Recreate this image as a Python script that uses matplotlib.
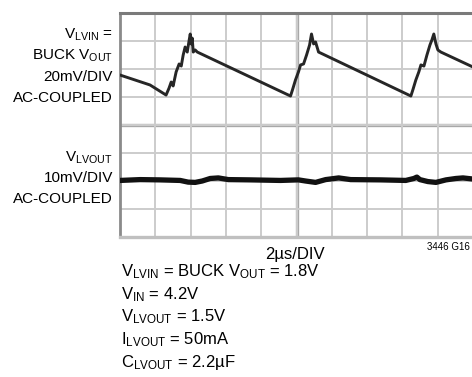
import matplotlib
matplotlib.use("Agg")
import matplotlib.pyplot as plt
import numpy as np

plt.rcParams['font.family'] = ['Liberation Sans Narrow', 'Liberation Sans', 'DejaVu Sans']
plt.rcParams['mathtext.fontset'] = 'custom'
plt.rcParams['mathtext.rm'] = 'Liberation Sans'

# upper trace: V_LVIN (= buck Vout), 20mV/div, AC coupled, time in us
t_lvin = [0.00, 1.70, 2.61, 2.78, 2.90, 3.01, 3.18, 3.35, 3.47, 3.58, 3.69, 3.81,
          3.92, 3.98, 4.03, 4.09, 4.15, 4.26, 4.38,
          9.66, 9.77, 9.94, 10.11, 10.23, 10.40, 10.57, 10.74, 10.85, 10.97,
          11.08, 11.25,
          16.48, 16.59, 16.76, 16.93, 17.05, 17.22, 17.39, 17.56, 17.67, 17.78,
          17.90, 18.01, 18.18, 20.00]
v_lvin = [-4.3, -11.4, -18.6, -13.6, -9.3, -12.1, -2.1, 3.6, 2.1, 10.0, 15.7, 12.1,
          20.7, 25.0, 17.9, 22.1, 12.1, 13.6, 12.1,
          -19.3, -15.0, -7.9, -2.1, 2.9, 3.6, 10.0, 17.1, 25.0, 17.9,
          19.3, 12.1,
          -19.3, -15.0, -7.9, -2.1, 2.9, 2.1, 10.0, 17.1, 20.7, 25.0,
          17.9, 13.6, 12.1, 1.4]

# lower trace: V_LVOUT, 10mV/div, AC coupled
t_lvout = [0.00, 1.14, 2.27, 3.41, 3.86, 4.26, 4.66, 5.11, 5.57, 6.14, 7.39, 9.09,
           10.11, 10.51, 11.08, 11.65, 12.39, 13.07, 14.77, 16.19, 16.65, 16.82,
           16.99, 17.44, 17.90, 18.47, 19.03, 19.43, 20.00]
v_lvout = [0.2, 0.5, 0.4, 0.2, -0.4, -0.5, 0.0, 0.9, 1.1, 0.5, 0.4, 0.2,
           0.4, 0.0, -0.5, 0.5, 1.1, 0.5, 0.4, 0.2, 0.9, 1.4,
           0.5, -0.2, -0.5, 0.4, 0.9, 1.1, 0.7]

pos_lvin = 2    # divisions
pos_lvout = -2

fig = plt.figure(figsize=(4.72, 3.77), dpi=100)
ax = fig.add_axes([120/472, 1 - 237/377, 353/472, 224/377])

ax.set_xlim(0, 20)
ax.set_ylim(-4, 4)
ax.set_xticks(np.arange(0, 21, 2))
ax.set_yticks(np.arange(-4, 5, 1))
ax.grid(True, color='#cccccc', lw=1.4)
ax.tick_params(length=0, labelbottom=False, labelleft=False)
ax.axvline(10, color='#a8a8a8', lw=2.4, zorder=1)
ax.axhline(0, color='#a8a8a8', lw=2.4, zorder=1)

ax.spines['top'].set_color('#7a7a7a')
ax.spines['top'].set_linewidth(2.2)
ax.spines['left'].set_color('#8a8a8a')
ax.spines['left'].set_linewidth(2.0)
ax.spines['bottom'].set_color('#c0c0c0')
ax.spines['bottom'].set_linewidth(2.4)
ax.spines['right'].set_visible(False)

ax.plot(t_lvin, np.array(v_lvin) / 20 + pos_lvin, color='#262626', lw=2.1,
        solid_joinstyle='round', zorder=3)
ax.plot(t_lvout, np.array(v_lvout) / 10 + pos_lvout, color='#111111', lw=3.8,
        solid_joinstyle='round', zorder=3)

fs = 11
fb = 12
r = 113/472
def ytx(y):
    return 1 - y/377

fig.text(r, ytx(35), r'$\mathregular{V_{LVIN}}$ =', ha='right', va='center', fontsize=fs)
fig.text(r, ytx(56), r'BUCK $\mathregular{V_{OUT}}$', ha='right', va='center', fontsize=fs)
fig.text(r, ytx(77), '20mV/DIV', ha='right', va='center', fontsize=fs)
fig.text(r, ytx(98), 'AC-COUPLED', ha='right', va='center', fontsize=fs)

fig.text(r, ytx(158), r'$\mathregular{V_{LVOUT}}$', ha='right', va='center', fontsize=fs)
fig.text(r, ytx(178), '10mV/DIV', ha='right', va='center', fontsize=fs)
fig.text(r, ytx(199), 'AC-COUPLED', ha='right', va='center', fontsize=fs)

fig.text(295/472, ytx(254), '2µs/DIV', ha='center', va='center', fontsize=fb)
fig.text(470/472, ytx(247), '3446 G16', ha='right', va='center', fontsize=7)

lines = [r'$\mathregular{V_{LVIN}}$ = BUCK $\mathregular{V_{OUT}}$ = 1.8V',
         r'$\mathregular{V_{IN}}$ = 4.2V',
         r'$\mathregular{V_{LVOUT}}$ = 1.5V',
         r'$\mathregular{I_{LVOUT}}$ = 50mA',
         r'$\mathregular{C_{LVOUT}}$ = 2.2µF']
for i, s in enumerate(lines):
    fig.text(121/472, ytx(272 + 22.5*i), s, ha='left', va='center', fontsize=fb)

fig.savefig('out.png', dpi=100)
